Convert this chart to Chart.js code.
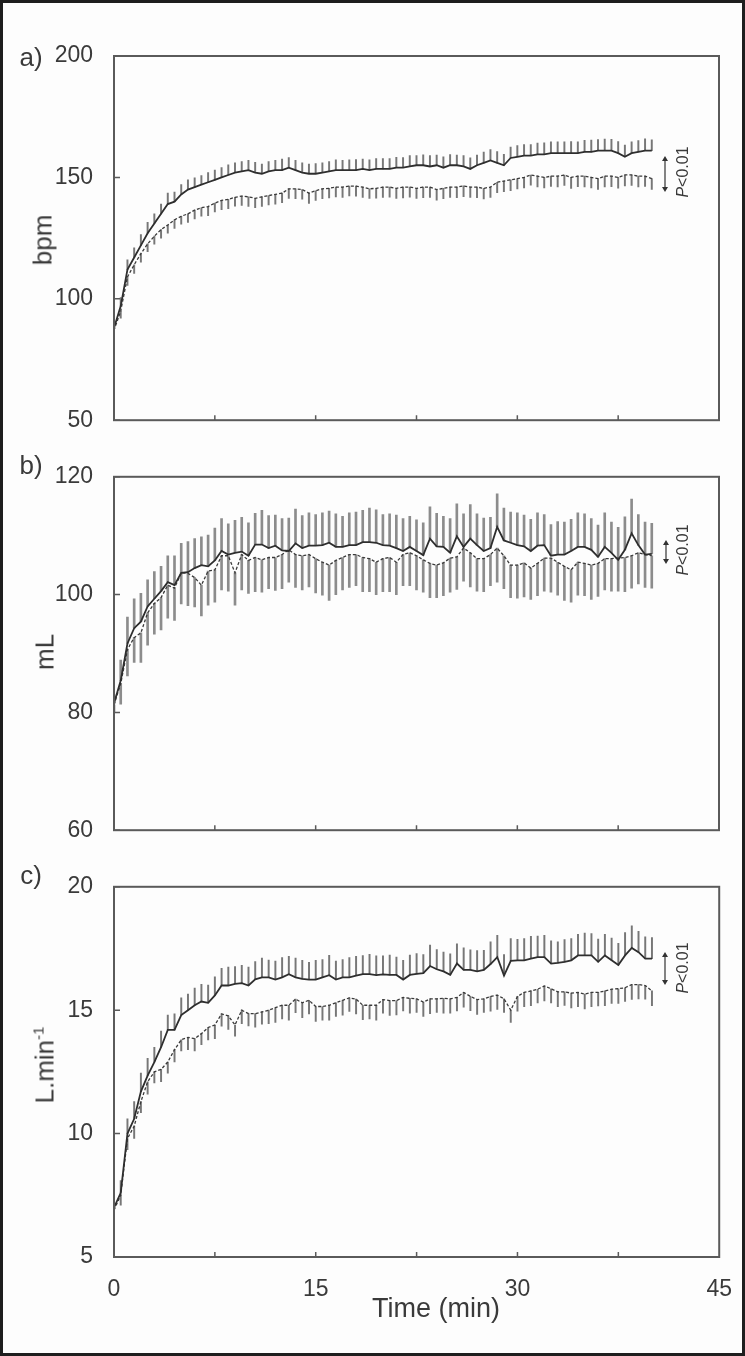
<!DOCTYPE html>
<html>
<head>
<meta charset="utf-8">
<script src="https://cdn.jsdelivr.net/npm/chart.js@4"></script>
<style>
  body { margin: 0; background: #fff; }
  #page { position: relative; width: 745px; height: 1356px; background: #fdfdfd; overflow: hidden; font-family: 'Liberation Sans', Arial, sans-serif; color: #3a3a3a; }
  #frame { position: absolute; left: 0; top: 0; width: 745px; height: 1356px; box-sizing: border-box; border: 3px solid #1e1e1e; pointer-events: none; }
  canvas { position: absolute; left: 0; }
  .lab { position: absolute; font-size: 26px; transform: translate(-50%, -50%); white-space: nowrap; }
  .ytitle { position: absolute; font-size: 26px; transform: translate(-50%, -50%) rotate(-90deg); white-space: nowrap; }
  .ytitle sup { font-size: 15px; }
  .pval { position: absolute; font-size: 16px; transform: translate(-50%, -50%) rotate(-90deg); white-space: nowrap; }
  .arrow { position: absolute; }
</style>
</head>
<body>
<div id="page">
  <canvas id="chartA" width="745" height="455" style="top:0px"></canvas>
  <canvas id="chartB" width="745" height="423" style="top:442px"></canvas>
  <!-- a bit wider: the x tick padding adds to the right margin of this one -->
  <canvas id="chartC" width="751" height="504" style="top:852px"></canvas>

  <div class="lab" style="left:31px; top:57px">a)</div>
  <div class="lab" style="left:31px; top:465px">b)</div>
  <div class="lab" style="left:31px; top:875px">c)</div>

  <div class="ytitle" style="left:43px; top:240px">bpm</div>
  <div class="ytitle" style="left:45px; top:652px">mL</div>
  <div class="ytitle" style="left:45px; top:1065px">L.min<sup>-1</sup></div>
  <div class="lab" style="left:436px; top:1308px; font-size:27px">Time (min)</div>

  <div class="pval" style="left:683px; top:172px"><i>P</i>&lt;0.01</div>
  <div class="pval" style="left:683px; top:550px"><i>P</i>&lt;0.01</div>
  <div class="pval" style="left:683px; top:968px"><i>P</i>&lt;0.01</div>

  <svg class="arrow" style="left:660px; top:156px" width="10" height="36"><line x1="5" y1="3" x2="5" y2="33" stroke="#333" stroke-width="1.2"/><path d="M2,5 L5,0 L8,5 Z M2,31 L5,36 L8,31 Z" fill="#333"/></svg>
  <svg class="arrow" style="left:661px; top:540px" width="10" height="24"><line x1="5" y1="3" x2="5" y2="21" stroke="#333" stroke-width="1.2"/><path d="M2,5 L5,0 L8,5 Z M2,19 L5,24 L8,19 Z" fill="#333"/></svg>
  <svg class="arrow" style="left:660px; top:952px" width="10" height="33"><line x1="5" y1="3" x2="5" y2="30" stroke="#333" stroke-width="1.2"/><path d="M2,5 L5,0 L8,5 Z M2,28 L5,33 L8,28 Z" fill="#333"/></svg>

  <div id="frame"></div>
</div>

<script>
// time points (min)
const time = [0, 0.5, 1, 1.5, 2, 2.5, 3, 3.5, 4, 4.5, 5, 5.5, 6, 6.5, 7, 7.5, 8, 8.5, 9, 9.5,
  10, 10.5, 11, 11.5, 12, 12.5, 13, 13.5, 14, 14.5, 15, 15.5, 16, 16.5, 17, 17.5, 18, 18.5, 19, 19.5,
  20, 20.5, 21, 21.5, 22, 22.5, 23, 23.5, 24, 24.5, 25, 25.5, 26, 26.5, 27, 27.5, 28, 28.5, 29, 29.5,
  30, 30.5, 31, 31.5, 32, 32.5, 33, 33.5, 34, 34.5, 35, 35.5, 36, 36.5, 37, 37.5, 38, 38.5, 39, 39.5, 40];

// a) heart rate, bpm
const hrSolid = [88, 97, 112, 117, 122, 127, 131, 135, 139, 140,
  143, 145, 146, 147, 148, 149, 150, 151, 152, 152.5,
  153, 152, 151.5, 152.5, 153, 153, 154, 153, 152, 151.5,
  151.5, 152, 152.5, 153, 153, 153, 153, 153.5, 153, 153.5,
  153.5, 153.5, 154, 154, 154.5, 155, 155, 154.5, 155, 154,
  155, 155, 154.5, 153.5, 155, 156, 157, 156, 155, 158,
  158.5, 159, 159, 159.5, 159.5, 160, 160, 160, 160, 160,
  160.5, 160.5, 161, 161, 161, 160, 158.5, 160, 160.5, 161, 161];
const hrSolidSd = [3, 3.5, 4, 4, 4.5, 4.5, 4, 4, 4.5, 4,
  4, 4, 3.8, 3.8, 4, 4, 4, 4.2, 4, 4,
  4, 4.2, 4, 4, 4, 4.5, 4.2, 4, 4, 4,
  4.2, 4, 4, 4.2, 4, 4.2, 4.3, 4, 4.2, 4.2,
  4.3, 4.2, 4.3, 4.2, 4.5, 4, 4.3, 4.5, 4.2, 4.5,
  4.4, 4.2, 4.5, 4.6, 4.2, 4.4, 4.5, 4.6, 4.5, 4.5,
  4.6, 4.5, 4.5, 4.6, 4.7, 4.6, 4.7, 4.6, 4.8, 4.6,
  4.8, 4.9, 4.6, 4.8, 4.7, 4.8, 4.8, 4.6, 4.7, 4.9, 4.5];
const hrDashed = [87, 95, 109, 114, 118.6, 122.6, 125.8, 128.5, 130.4, 132.5,
  134, 135, 136.5, 137.5, 138, 139.4, 140.5, 141, 141.8, 142.3,
  142, 141.4, 142, 142.5, 143, 143.5, 145.3, 145.3, 145, 143.5,
  144.5, 145.3, 145.5, 146, 146, 146.4, 146.4, 146, 145.3, 145.5,
  146, 146, 145.5, 146, 146, 145.5, 146, 146, 145, 145.5,
  146, 146, 146.5, 146, 146, 145.5, 146, 148, 148.5, 149,
  149.5, 150, 151, 150.5, 150, 150.5, 150.5, 151, 150, 150.5,
  150.5, 150, 149.5, 150.5, 150.5, 150, 151, 151, 150.5, 150.5, 149.5];
const hrDashedSd = [2.5, 3, 3.5, 3.5, 3.5, 3.2, 3.3, 3.5, 3.4, 3.5,
  3.3, 3.5, 3.6, 3.5, 3.8, 3.6, 3.8, 3.9, 3.7, 3.8,
  4, 3.9, 4, 3.8, 4, 3.9, 4, 4.1, 4, 4.2,
  4, 4.1, 3.9, 4, 4.2, 4, 4.1, 4.2, 4, 4.1,
  4.2, 4.1, 4.2, 4.4, 4.1, 4.2, 4.3, 4.2, 4.4, 4.3,
  4.2, 4.3, 4.4, 4.2, 4.3, 4.4, 4.2, 4.3, 4.4, 4.5,
  4.2, 4.3, 4.2, 4.4, 4.3, 4.2, 4.4, 4.3, 4.5, 4.3,
  4.4, 4.3, 4.5, 4.4, 4.3, 4.4, 4.5, 4.3, 4.4, 4.2, 4.4];

// b) stroke volume, mL
const svSolid = [81.5, 85.4, 91.7, 94.3, 95.4, 98, 99.3, 100.6, 102.1, 101.6,
  103.7, 103.8, 104.5, 105, 104.8, 105.8, 107.4, 106.8, 107.1, 107.3,
  106.6, 108.5, 108.5, 107.9, 108.3, 107.5, 107.4, 108.7, 107.9, 108.3,
  108.3, 108.4, 108.8, 108.1, 108.1, 108.4, 108.4, 108.9, 108.9, 108.8,
  108.4, 108.3, 107.9, 107.4, 108.1, 107.4, 106.7, 109.5, 108.2, 108.1,
  107.1, 109.9, 108.1, 109.5, 108.4, 107.4, 107.9, 111.5, 109.2, 108.8,
  108.4, 108.2, 107.4, 108.3, 108.4, 106.6, 106.8, 106.8, 107.4, 108.1,
  108.1, 107.6, 106.4, 108.1, 107.1, 105.9, 107.6, 110.4, 108.4, 106.8, 106.9];
const svSolidSd = [1.5, 3.5, 4.5, 5, 4.8, 4.5, 4.6, 4.2, 4.5, 5,
  5, 5.2, 5, 4.8, 5.3, 5.5, 5.5, 5.2, 5.5, 5.8,
  5.6, 5.3, 5.8, 5.5, 5.2, 5.4, 5.6, 5.8, 5.5, 5.6,
  5.3, 5.5, 5.4, 5.6, 5.2, 5.5, 5.6, 5.4, 5.8, 5.6,
  5.2, 5.4, 5.6, 5.5, 5.2, 5.3, 5.5, 5.4, 5.6, 5.2,
  5.8, 5.5, 5.6, 5.8, 5.3, 5.6, 5.2, 5.6, 5.5, 5.2,
  5.5, 5.3, 5.4, 5.6, 5.2, 5.3, 5.6, 5.5, 5.4, 5.8,
  5.6, 5.3, 5.4, 5.8, 5.2, 5.5, 5.6, 5.8, 5.2, 5.5, 5.2];
const svDashed = [81.3, 84.9, 90.7, 92.7, 93.5, 96.9, 98.5, 99.5, 101.6, 101.1,
  103.7, 103.6, 102.9, 101.6, 104, 104.2, 106.6, 106.6, 103.7, 106.8,
  105.8, 106.3, 105.9, 106.3, 106.3, 106.8, 107.6, 106.8, 106.6, 106.8,
  106.1, 105.5, 105, 105.8, 106.3, 106.8, 106.8, 106.3, 106.1, 105.5,
  106.1, 106.3, 105.5, 106.8, 107.1, 106.6, 105.9, 105.3, 105, 105.4,
  106.2, 106.4, 107.9, 107.1, 106.1, 106.1, 106.8, 107.9, 106.6, 105,
  105, 105.4, 104.5, 105.3, 106.2, 106.2, 105.5, 104.8, 104.2, 105.5,
  105.3, 105, 105.3, 106.1, 106.1, 106.2, 106.3, 106.6, 107.1, 106.8, 106.6];
const svDashedSd = [1.3, 3.5, 4.5, 4.2, 5, 5.5, 5.2, 5.5, 5.6, 5.5,
  5.3, 5.5, 5, 5.2, 5.8, 5.5, 5.8, 6, 5.5, 6,
  5.6, 5.8, 5.5, 5.3, 5.6, 5.8, 5.5, 5.6, 5.8, 5.5,
  5.8, 5.6, 6, 5.8, 5.5, 5.6, 5.3, 5.8, 5.6, 5.5,
  5.6, 5.8, 5.5, 5.3, 5.6, 5.8, 5.5, 5.8, 5.5, 5.6,
  5.8, 5.5, 5.6, 5.8, 5.5, 5.6, 5.3, 5.8, 5.6, 5.5,
  5.6, 5.8, 5.3, 5.5, 5.6, 5.8, 5.6, 5.8, 5.5, 5.6,
  5.5, 5.8, 5.6, 5.3, 5.5, 5.6, 5.8, 5.5, 5.3, 5.6, 5.5];

// c) cardiac output, L.min-1
const coSolid = [7.0, 7.6, 10.0, 10.6, 11.7, 12.35, 12.9, 13.5, 14.2, 14.2,
  14.8, 15.0, 15.2, 15.35, 15.3, 15.6, 16.0, 16.0, 16.07, 16.1,
  16.0, 16.25, 16.33, 16.33, 16.24, 16.33, 16.46, 16.33, 16.27, 16.24,
  16.24, 16.33, 16.42, 16.24, 16.33, 16.33, 16.4, 16.46, 16.46, 16.42,
  16.45, 16.43, 16.43, 16.24, 16.43, 16.47, 16.5, 16.79, 16.66, 16.57,
  16.43, 16.89, 16.63, 16.63, 16.57, 16.63, 16.87, 17.15, 16.4, 17.0,
  17.02, 17.02, 17.09, 17.15, 17.15, 16.89, 16.92, 16.96, 17.02, 17.22,
  17.22, 17.22, 16.96, 17.22, 17.02, 16.83, 17.22, 17.52, 17.35, 17.09, 17.09];
const coSolidSd = [0.3, 0.5, 0.6, 0.7, 0.75, 0.7, 0.6, 0.65, 0.6, 0.65,
  0.7, 0.65, 0.7, 0.7, 0.72, 0.75, 0.7, 0.75, 0.7, 0.72,
  0.75, 0.72, 0.78, 0.7, 0.75, 0.8, 0.72, 0.78, 0.75, 0.7,
  0.78, 0.72, 0.8, 0.75, 0.72, 0.8, 0.78, 0.75, 0.8, 0.78,
  0.75, 0.8, 0.72, 0.78, 0.8, 0.82, 0.75, 0.85, 0.8, 0.78,
  0.85, 0.8, 0.9, 0.82, 0.85, 0.8, 0.9, 0.88, 0.85, 0.9,
  0.85, 0.88, 0.9, 0.85, 0.88, 0.92, 0.85, 0.9, 0.88, 0.85,
  0.9, 0.88, 0.92, 0.85, 0.9, 0.88, 0.92, 0.9, 0.85, 0.88, 0.85];
const coDashed = [6.9, 7.5, 9.8, 10.3, 11.3, 12.1, 12.5, 12.6, 12.9, 13.4,
  13.8, 13.9, 13.85, 14.05, 14.3, 14.4, 14.85, 14.77, 14.4, 15.0,
  14.86, 14.86, 14.93, 15.0, 15.1, 15.2, 15.2, 15.45, 15.3, 15.4,
  15.15, 15.15, 15.2, 15.3, 15.4, 15.5, 15.45, 15.2, 15.2, 15.2,
  15.43, 15.39, 15.39, 15.52, 15.48, 15.46, 15.33, 15.46, 15.46, 15.48,
  15.46, 15.52, 15.72, 15.56, 15.43, 15.46, 15.56, 15.61, 15.46, 15.0,
  15.56, 15.72, 15.78, 15.85, 15.98, 15.87, 15.74, 15.74, 15.69, 15.72,
  15.65, 15.72, 15.72, 15.78, 15.85, 15.87, 15.91, 16.04, 16.04, 16.0, 15.78];
const coDashedSd = [0.3, 0.4, 0.45, 0.5, 0.45, 0.5, 0.45, 0.5, 0.45, 0.5,
  0.45, 0.5, 0.5, 0.45, 0.5, 0.55, 0.5, 0.55, 0.45, 0.55,
  0.5, 0.55, 0.5, 0.55, 0.6, 0.55, 0.6, 0.55, 0.6, 0.55,
  0.6, 0.55, 0.6, 0.55, 0.6, 0.55, 0.6, 0.58, 0.55, 0.6,
  0.55, 0.6, 0.58, 0.55, 0.6, 0.55, 0.58, 0.6, 0.55, 0.6,
  0.58, 0.55, 0.6, 0.58, 0.6, 0.55, 0.6, 0.58, 0.55, 0.5,
  0.6, 0.58, 0.6, 0.55, 0.6, 0.58, 0.6, 0.55, 0.6, 0.58,
  0.6, 0.58, 0.55, 0.6, 0.58, 0.6, 0.55, 0.6, 0.58, 0.55, 0.6];

const xTicks = [0, 15, 30, 45];

// inward tick marks + box around the plot area
const frameTicks = {
  id: 'frameTicks',
  afterDraw(chart) {
    const { ctx, chartArea: a, scales: { x, y } } = chart;
    ctx.save();
    ctx.strokeStyle = '#5a5a5a';
    ctx.lineWidth = 1.5;
    ctx.beginPath();
    x.ticks.forEach(t => {
      const px = x.getPixelForValue(t.value);
      if (px > a.left + 1 && px < a.right - 1) { ctx.moveTo(px, a.bottom); ctx.lineTo(px, a.bottom - 5); }
    });
    y.ticks.forEach(t => {
      const py = y.getPixelForValue(t.value);
      ctx.moveTo(a.left, py); ctx.lineTo(a.left + 6, py);
    });
    ctx.stroke();
    ctx.lineWidth = 2;
    ctx.strokeRect(a.left, a.top, a.right - a.left, a.bottom - a.top);
    ctx.restore();
  }
};

function pts(vals) {
  return vals.map((v, i) => ({ x: time[i], y: v }));
}
function upBars(vals, sd) {
  return vals.map((v, i) => ({ x: time[i], y: [v, v + sd[i]] }));
}
function downBars(vals, sd) {
  return vals.map((v, i) => ({ x: time[i], y: [v - sd[i], v] }));
}

const tickFont = { family: "'Liberation Sans', Arial, sans-serif", size: 23 };

function makePanel(id, o) {
  new Chart(document.getElementById(id), {
    type: 'line',
    data: {
      datasets: [
        { type: 'bar', data: upBars(o.solid, o.solidSd), backgroundColor: o.barColor, borderWidth: 0,
          barThickness: o.barW, grouped: false, order: 2 },
        { type: 'bar', data: downBars(o.dashed, o.dashedSd), backgroundColor: o.barColor, borderWidth: 0,
          barThickness: o.barW, grouped: false, order: 2 },
        { data: pts(o.solid), borderColor: '#2e2e2e', borderWidth: 1.8, pointRadius: 0, tension: 0, order: 1 },
        { data: pts(o.dashed), borderColor: '#3a3a3a', borderWidth: 1.3, borderDash: [3, 2], pointRadius: 0, tension: 0, order: 1 }
      ]
    },
    options: {
      responsive: false,
      animation: false,
      layout: { padding: { left: 0, right: 26, top: o.padTop, bottom: o.padBottom } },
      plugins: { legend: { display: false }, tooltip: { enabled: false } },
      scales: {
        x: {
          type: 'linear', min: 0, max: 45, offset: false,
          grid: { display: false, drawTicks: false }, border: { display: false },
          ticks: {
            display: o.showX, stepSize: 7.5, autoSkip: false, maxRotation: 0,
            callback: v => xTicks.includes(v) ? v : '',
            color: '#3a3a3a', font: tickFont, padding: 19
          },
          afterFit: s => { s.height = o.showX ? 99 : 0; }
        },
        y: {
          min: o.yMin, max: o.yMax,
          grid: { display: false, drawTicks: false }, border: { display: false },
          ticks: { stepSize: o.yStep, color: '#3a3a3a', font: tickFont, padding: 21 },
          afterFit: s => { s.width = 114; }
        }
      }
    },
    plugins: [frameTicks]
  });
}

makePanel('chartA', { solid: hrSolid, solidSd: hrSolidSd, dashed: hrDashed, dashedSd: hrDashedSd,
  yMin: 50, yMax: 200, yStep: 50, padTop: 56, padBottom: 16, showX: false, barW: 1.3, barColor: '#777' });
makePanel('chartB', { solid: svSolid, solidSd: svSolidSd, dashed: svDashed, dashedSd: svDashedSd,
  yMin: 60, yMax: 120, yStep: 20, padTop: 24, padBottom: 16, showX: false, barW: 2, barColor: '#8c8c8c' });
makePanel('chartC', { solid: coSolid, solidSd: coSolidSd, dashed: coDashed, dashedSd: coDashedSd,
  yMin: 5, yMax: 20, yStep: 5, padTop: 22, padBottom: 0, showX: true, barW: 1.3, barColor: '#777' });
</script>
</body>
</html>
